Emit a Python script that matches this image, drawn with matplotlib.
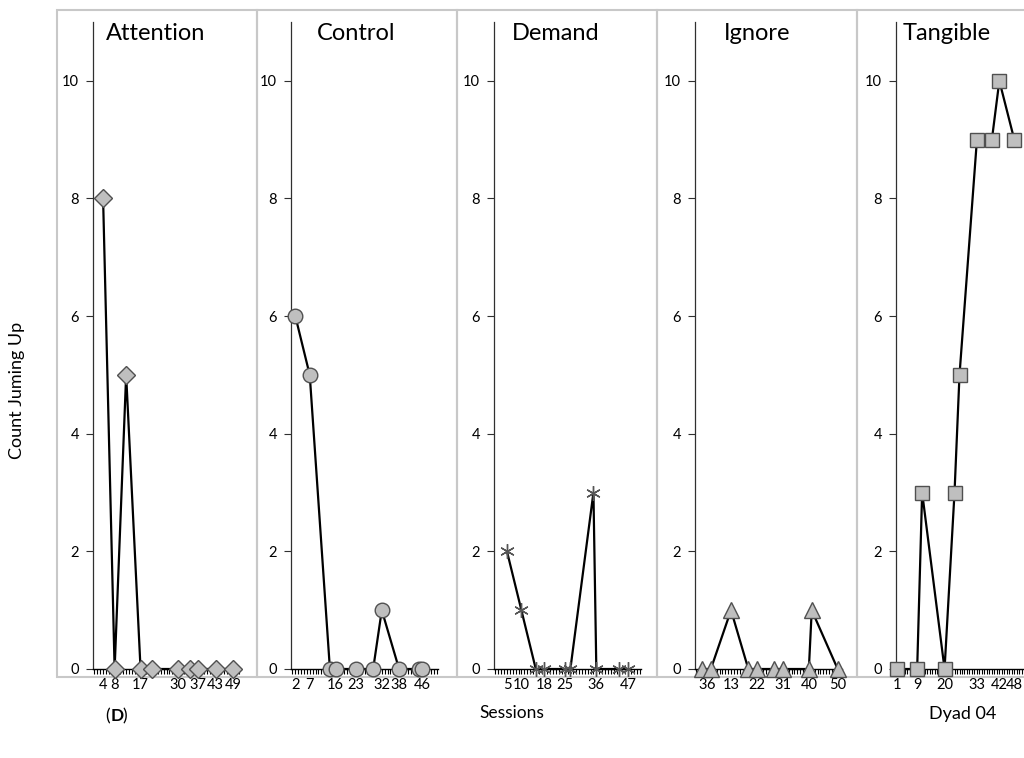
import matplotlib
matplotlib.use("Agg")
import matplotlib.pyplot as plt
from matplotlib.patches import Rectangle
from matplotlib.ticker import FixedLocator

plt.rcParams['font.family'] = ['Lato', 'DejaVu Sans']

conditions = ["Attention", "Control", "Demand", "Ignore", "Tangible"]

attention_sessions = [4, 8, 12, 17, 21, 30, 34, 37, 43, 49]
attention_values = [8, 0, 5, 0, 0, 0, 0, 0, 0, 0]
attention_labels = [4, 8, 17, 30, 37, 43, 49]

control_sessions = [2, 7, 14, 16, 23, 29, 32, 38, 45, 46]
control_values = [6, 5, 0, 0, 0, 0, 1, 0, 0, 0]
control_labels = [2, 7, 16, 23, 32, 38, 46]

demand_sessions = [5, 10, 15, 18, 25, 27, 35, 36, 44, 47]
demand_values = [2, 1, 0, 0, 0, 0, 3, 0, 0, 0]
demand_labels = [5, 10, 18, 25, 36, 47]

ignore_sessions = [3, 6, 13, 19, 22, 28, 31, 40, 41, 50]
ignore_values = [0, 0, 1, 0, 0, 0, 0, 0, 1, 0]
ignore_labels = [3, 6, 13, 22, 31, 40, 50]

tangible_sessions = [1, 9, 11, 20, 24, 26, 33, 39, 42, 48]
tangible_values = [0, 0, 3, 0, 3, 5, 9, 9, 10, 9]
tangible_labels = [1, 9, 20, 33, 42, 48]

y_ticks = [0, 2, 4, 6, 8, 10]

series = [
    (attention_sessions, attention_values, attention_labels),
    (control_sessions, control_values, control_labels),
    (demand_sessions, demand_values, demand_labels),
    (ignore_sessions, ignore_values, ignore_labels),
    (tangible_sessions, tangible_values, tangible_labels),
]

W, H = 1024, 758
fig = plt.figure(figsize=(W / 100, H / 100), dpi=100)

# panel frames
frame_color = "#c8c8c8"
panel_edges = [57, 257, 457, 657, 857, 1043]
for i in range(5):
    x0, x1 = panel_edges[i], panel_edges[i + 1]
    fig.add_artist(Rectangle((x0 / W, 1 - 677 / H), (x1 - x0) / W, (677 - 10) / H,
                             transform=fig.transFigure, facecolor="none",
                             edgecolor=frame_color, linewidth=1.5, zorder=0))

axis_left = [93, 291, 494, 695, 896]
axis_width = [147, 147, 147, 147, 127]
title_center = [156, 356, 556, 757, 947]
bottom = 1 - 669 / H
height = (669 - 22) / H

marker_styles = [
    dict(marker="D", ms=9),
    dict(marker="o", ms=10.5),
    dict(marker=(6, 2, 0), ms=10.5),
    dict(marker="^", ms=12),
    dict(marker="s", ms=10.5),
]

for i, (name, (xs, ys, labs)) in enumerate(zip(conditions, series)):
    ax = fig.add_axes([axis_left[i] / W, bottom, axis_width[i] / W, height])
    ax.patch.set_alpha(0)
    st = marker_styles[i]
    if i == 2:
        ax.plot(xs, ys, color="black", lw=1.6, zorder=3, clip_on=False)
        ax.plot(xs, ys, ls="none", marker=st["marker"], ms=st["ms"],
                markeredgecolor="#555555", markeredgewidth=1.0, zorder=4, clip_on=False)
    else:
        ax.plot(xs, ys, color="black", lw=1.6, marker=st["marker"], ms=st["ms"],
                markerfacecolor="#bfbfbf", markeredgecolor="#505050",
                markeredgewidth=1.0, zorder=3, clip_on=False)
    ax.set_xlim(0.5, 51.5)
    ax.set_ylim(0, 11)
    for s in ["top", "right"]:
        ax.spines[s].set_visible(False)
    ax.spines["left"].set_color("#303030")
    ax.spines["left"].set_linewidth(0.9)
    ax.spines["bottom"].set_color("black")
    ax.spines["bottom"].set_linewidth(1.0)
    ax.set_yticks(y_ticks)
    ax.set_yticklabels([str(v) for v in y_ticks])
    ax.tick_params(axis="y", direction="out", length=5, width=0.8, labelsize=10.5,
                   pad=5, color="#303030")
    ax.set_xticks(labs)
    ax.set_xticklabels([str(v) for v in labs])
    ax.xaxis.set_minor_locator(FixedLocator(list(range(1, 52))))
    ax.tick_params(axis="x", which="both", direction="out", length=3.5, width=0.8,
                   labelsize=10.5, pad=3)
    fig.text(title_center[i] / W, 1 - 33 / H, name, fontsize=17,
             ha="center", va="center")

fig.text(17 / W, 1 - 390 / H, "Count Juming Up", rotation=90, fontsize=13,
         ha="center", va="center")
fig.text(512 / W, 1 - 713 / H, "Sessions", fontsize=12.5, ha="center", va="center")
fig.text(105 / W, 1 - 716 / H, "(", fontsize=12.5, ha="left", va="center")
fig.text(110.5 / W, 1 - 716 / H, "D", fontsize=12.5, ha="left", va="center", fontweight="bold")
fig.text(122.5 / W, 1 - 716 / H, ")", fontsize=12.5, ha="left", va="center")
fig.text(963 / W, 1 - 714 / H, "Dyad 04", fontsize=13, ha="center", va="center")

fig.savefig("out.png", dpi=100)
